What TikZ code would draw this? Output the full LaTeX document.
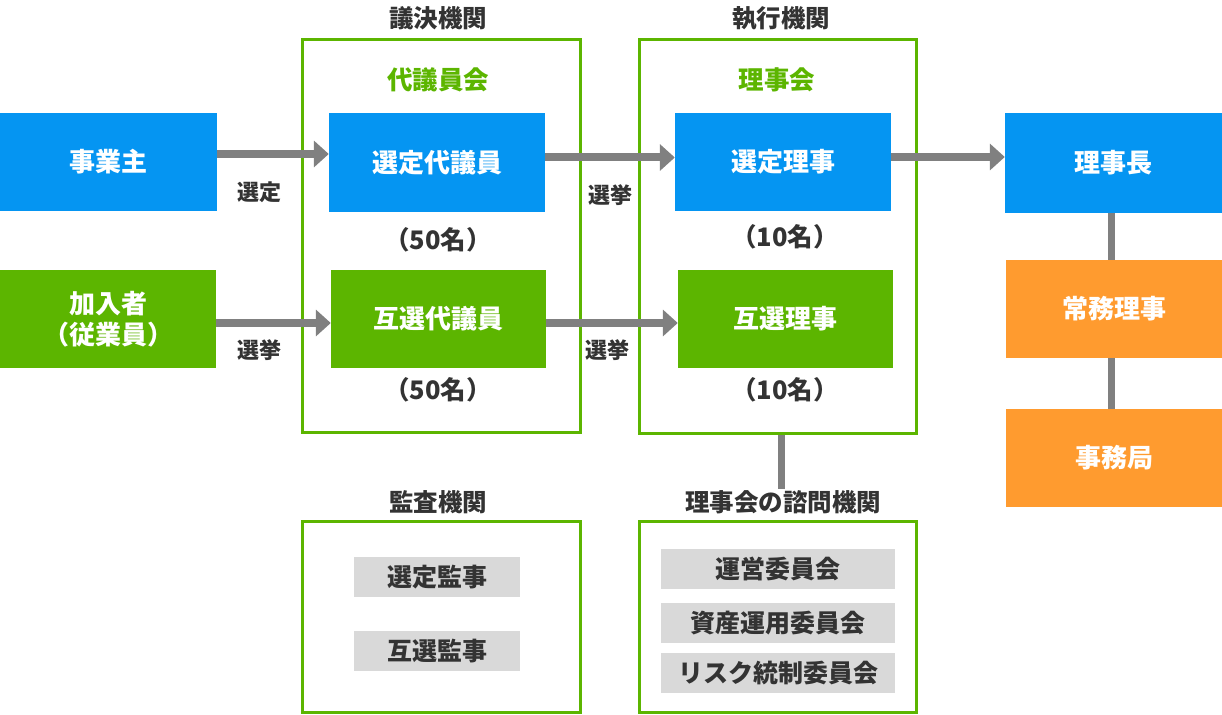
\documentclass[tikz,border=0pt]{standalone}
\usepackage{fontspec}
\setmainfont{Noto Sans CJK JP}
\usetikzlibrary{arrows.meta}
\definecolor{cblue}{HTML}{0595F2}
\definecolor{cgreen}{HTML}{5CB500}
\definecolor{corange}{HTML}{FF9B2F}
\definecolor{cgray}{HTML}{808080}
\definecolor{cbox}{HTML}{D9D9D9}
\definecolor{ctext}{HTML}{333333}
\tikzset{
  fillbox/.style={rectangle, inner sep=0pt, text=white, font=\bfseries\fontsize{26}{31}\selectfont, align=center},
  bluebox/.style={fillbox, fill=cblue, minimum width=216pt, minimum height=98pt},
  greenbox/.style={fillbox, fill=cgreen, minimum width=216pt, minimum height=98pt},
  orangebox/.style={fillbox, fill=corange, minimum width=216pt, minimum height=98pt},
  frame/.style={rectangle, draw=cgreen, line width=3pt, inner sep=0pt},
  title/.style={text=ctext, font=\bfseries\fontsize{24.5}{28}\selectfont, inner sep=1pt},
  subtitle/.style={text=cgreen, font=\bfseries\fontsize{25.5}{28}\selectfont, inner sep=1pt},
  count/.style={text=ctext, font=\bfseries\fontsize{25.5}{28}\selectfont, inner sep=1pt},
  lbl/.style={text=ctext, font=\bfseries\fontsize{22}{26}\selectfont, inner sep=1pt},
  graybox/.style={rectangle, fill=cbox, inner sep=0pt, minimum height=40pt, text=ctext, font=\bfseries\fontsize{25}{28}\selectfont},
  arr/.style={draw=cgray, line width=8pt, -{Triangle[length=15pt,width=26pt]}},
  link/.style={draw=cgray, line width=7pt}
}
\begin{document}
\begin{tikzpicture}[x=1pt,y=-1pt]
\useasboundingbox (0,0) rectangle (1222,714);
% frames
\node[frame, minimum width=278pt, minimum height=392pt] (ketsugi) at (441,236) {};
\node[frame, minimum width=277pt, minimum height=393pt] (shikko) at (777.5,236.5) {};
\node[frame, minimum width=278pt, minimum height=191pt] (kansa) at (441,616.5) {};
\node[frame, minimum width=277pt, minimum height=191pt] (shimon) at (777.5,616.5) {};
% titles
\node[title] (tketsugi) at (438,18) {議決機関};
\node[title] (tshikko) at (781,18) {執行機関};
\node[title] (tkansa) at (438,502) {監査機関};
\node[title] (tshimon) at (783,502) {理事会の諮問機関};
\node[subtitle] (daigiinkai) at (438,80) {代議員会};
\node[subtitle] (rijikai) at (777,80) {理事会};
% boxes
\node[bluebox, minimum width=217pt] (jigyo) at (108.5,162) {事業主};
\node[greenbox] (kanyu) at (108,319) {加入者\\（従業員）};
\node[bluebox, minimum height=99pt] (sdaigi) at (437,162.5) {選定代議員};
\node[greenbox, minimum width=215pt] (gdaigi) at (438.5,319) {互選代議員};
\node[bluebox] (sriji) at (783,162) {選定理事};
\node[greenbox, minimum width=215pt] (griji) at (785.5,319) {互選理事};
\node[bluebox, minimum width=217pt, minimum height=100pt] (richo) at (1113.5,163) {理事長};
\node[orangebox] (jomu) at (1114,309) {常務理事};
\node[orangebox] (jimu) at (1114,458) {事務局};
% counts
\node[count] (c1) at (438,240) {（50名）};
\node[count] (c2) at (438,390) {（50名）};
\node[count] (c3) at (785,237) {（10名）};
\node[count] (c4) at (785,390) {（10名）};
% gray boxes
\node[graybox, minimum width=166pt] (skanji) at (437,577) {選定監事};
\node[graybox, minimum width=166pt] (gkanji) at (437,651) {互選監事};
\node[graybox, minimum width=234pt] (unei) at (778,569) {運営委員会};
\node[graybox, minimum width=234pt] (shisan) at (778,623) {資産運用委員会};
\node[graybox, minimum width=234pt] (risk) at (778,673) {リスク統制委員会};
% labels
\node[lbl] (l1) at (259,192) {選定};
\node[lbl] (l2) at (259,350) {選挙};
\node[lbl] (l3) at (610,195) {選挙};
\node[lbl] (l4) at (607,350) {選挙};
% connectors
\draw[arr] ([yshift=8pt]jigyo.east) -- ([yshift=8pt]jigyo.east -| sdaigi.west);
\draw[arr] ([yshift=-4pt]kanyu.east) -- ([yshift=-4pt]kanyu.east -| gdaigi.west);
\draw[arr] ([yshift=5pt]sdaigi.east) -- ([yshift=5pt]sdaigi.east -| sriji.west);
\draw[arr] ([yshift=-4pt]gdaigi.east) -- ([yshift=-4pt]gdaigi.east -| griji.west);
\draw[arr] ([yshift=5pt]sriji.east) -- ([yshift=5pt]sriji.east -| richo.west);
\draw[link] (richo.south -| 1111,0) -- (jomu.north -| 1111,0);
\draw[link] (jomu.south -| 1111,0) -- (jimu.north -| 1111,0);
\draw[link] (shikko.south -| 781,0) -- (tshimon.north -| 781,0);
\end{tikzpicture}
\end{document}
